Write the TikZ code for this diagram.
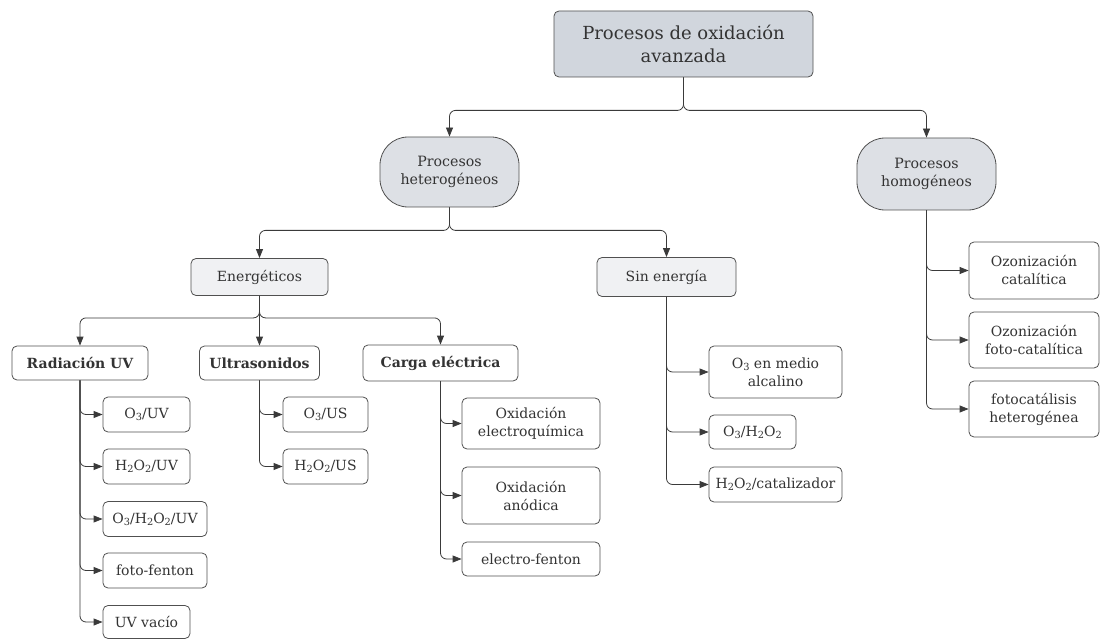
\documentclass[tikz,border=0pt]{standalone}
\usepackage{fontspec}
\setmainfont{DejaVu Serif}
\usetikzlibrary{arrows.meta}
\definecolor{topfill}{HTML}{D1D6DD}
\definecolor{midfill}{HTML}{DDE0E5}
\definecolor{lowfill}{HTML}{F0F1F3}
\definecolor{edgec}{HTML}{505050}
\definecolor{connc}{HTML}{3A3A3A}
\definecolor{txtc}{HTML}{333333}
\newcommand\sbx[1]{\raisebox{-0.25ex}{\scalebox{0.7}{#1}}}
\begin{document}
\begin{tikzpicture}[x=1pt,y=-1pt,
  box/.style={draw=edgec,line width=0.8pt,rounded corners=5pt,align=center,inner sep=0pt,text=txtc,
    font=\fontsize{14}{18}\selectfont},
  topbox/.style={box,fill=topfill,font=\fontsize{18}{23.5}\selectfont},
  midbox/.style={box,fill=midfill,rounded corners=28pt,font=\fontsize{14.2}{18.5}\selectfont},
  lowbox/.style={box,fill=lowfill},
  catbox/.style={box,fill=white,font=\bfseries\fontsize{14}{18}\selectfont},
  leaf/.style={box,fill=white},
  conn/.style={draw=connc,line width=0.8pt,rounded corners=6pt,-{Triangle[length=9pt,width=7pt]}}
]
\useasboundingbox (0,0) rectangle (1101,639);

\node[topbox,minimum width=259pt,minimum height=66pt] (top) at (683.5,44) {Procesos de oxidación\\avanzada};
\node[midbox,minimum width=139pt,minimum height=70pt] (het) at (449.5,172) {Procesos\\heterogéneos};
\node[midbox,minimum width=139pt,minimum height=72pt] (hom) at (926.5,174) {Procesos\\homogéneos};

\node[lowbox,minimum width=137pt,minimum height=37pt] (ene) at (259.5,277) {Energéticos};
\node[lowbox,minimum width=139pt,minimum height=39pt] (sin) at (666.5,277) {Sin energía};

\node[catbox,minimum width=136pt,minimum height=34pt] (rad) at (80,363) {Radiación UV};
\node[catbox,minimum width=120pt,minimum height=34pt] (ult) at (259.5,363) {Ultrasonidos};
\node[catbox,minimum width=155pt,minimum height=36pt] (car) at (440.5,363) {Carga eléctrica};

\node[leaf,minimum width=87pt,minimum height=35pt] (o3uv) at (146.5,414.5) {O\sbx{3}/UV};
\node[leaf,minimum width=87pt,minimum height=35pt] (h2o2uv) at (146.5,466.5) {H\sbx{2}O\sbx{2}/UV};
\node[leaf,minimum width=104pt,minimum height=35pt] (o3h2o2uv) at (155,519) {O\sbx{3}/H\sbx{2}O\sbx{2}/UV};
\node[leaf,minimum width=104pt,minimum height=35pt] (foto) at (155,570.5) {foto-fenton};
\node[leaf,minimum width=87pt,minimum height=33pt] (uvv) at (146.5,622) {UV vacío};

\node[leaf,minimum width=85pt,minimum height=35pt] (o3us) at (325.5,414.5) {O\sbx{3}/US};
\node[leaf,minimum width=85pt,minimum height=35pt] (h2o2us) at (325.5,466.5) {H\sbx{2}O\sbx{2}/US};

\node[leaf,minimum width=138pt,minimum height=51pt] (oxe) at (531,423.5) {Oxidación\\electroquímica};
\node[leaf,minimum width=138pt,minimum height=57pt] (oxa) at (531,495.5) {Oxidación\\anódica};
\node[leaf,minimum width=138pt,minimum height=34pt] (elf) at (531,559) {electro-fenton};

\node[leaf,minimum width=133pt,minimum height=52pt] (o3alc) at (775.5,372) {O\sbx{3} en medio\\alcalino};
\node[leaf,minimum width=87pt,minimum height=34pt] (o3h2o2) at (752.5,432) {O\sbx{3}/H\sbx{2}O\sbx{2}};
\node[leaf,minimum width=133pt,minimum height=35pt] (h2o2cat) at (775.5,484.5) {H\sbx{2}O\sbx{2}/catalizador};

\node[leaf,minimum width=130pt,minimum height=57pt] (ozc) at (1034,270.5) {Ozonización\\catalítica};
\node[leaf,minimum width=130pt,minimum height=56pt] (ozf) at (1034,340) {Ozonización\\foto-catalítica};
\node[leaf,minimum width=130pt,minimum height=56pt] (fot) at (1034,409) {fotocatálisis\\heterogénea};

% tree connectors
\draw[conn] (top.south) -- ++(0,33) -| (het.north);
\draw[conn] (top.south) -- ++(0,33) -| (hom.north);
\draw[conn] (het.south) -- ++(0,23) -| (ene.north);
\draw[conn] (het.south) -- ++(0,23) -| (sin.north);
\draw[conn] (ene.south) -- ++(0,22) -| (rad.north);
\draw[conn] (ene.south) -- (ult.north);
\draw[conn] (ene.south) -- ++(0,22) -| (car.north);

% side connectors
\foreach \p/\c in {rad/o3uv,rad/h2o2uv,rad/o3h2o2uv,rad/foto,rad/uvv,
  ult/o3us,ult/h2o2us,car/oxe,car/oxa,car/elf,
  sin/o3alc,sin/o3h2o2,sin/h2o2cat,hom/ozc,hom/ozf,hom/fot}
  \draw[conn] (\p.south) |- (\c.west);
\end{tikzpicture}
\end{document}
